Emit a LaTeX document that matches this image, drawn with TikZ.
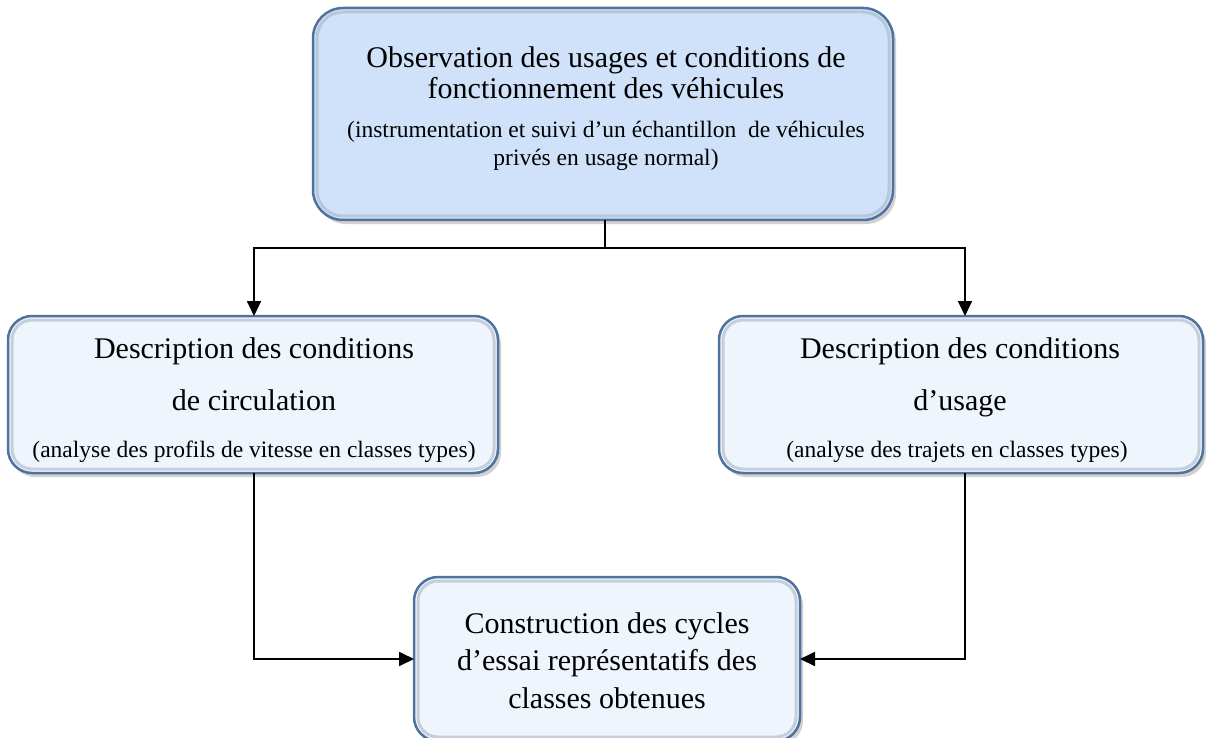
\documentclass[tikz,border=0pt]{standalone}
\usepackage{fontspec}
\setmainfont{Liberation Serif}
\usetikzlibrary{arrows.meta}
\definecolor{bordc}{RGB}{79,114,158}
\definecolor{topfill}{RGB}{207,226,250}
\definecolor{subfill}{RGB}{239,245,253}
\definecolor{bevelc}{RGB}{165,175,190}
\begin{document}
\begin{tikzpicture}[x=1pt,y=-1pt,
  box/.style={draw=bordc, line width=2.5pt, rounded corners=#1, inner sep=0pt, outer sep=0pt},
  box/.default=24pt,
  bevel/.style={draw=bevelc, line width=3pt, opacity=0.55, rounded corners=#1},
  bevel/.default=20pt,
  shade/.style={fill=black, opacity=0.18, rounded corners=#1},
  shade/.default=24pt,
  big/.style={font=\fontsize{30}{36}\selectfont, anchor=base, inner sep=0pt},
  small/.style={font=\fontsize{23.5}{28}\selectfont, anchor=base, inner sep=0pt},
  conn/.style={draw=black, line width=1.8pt},
  arr/.style={conn, -{Triangle[length=15pt,width=14pt]}}
]
\useasboundingbox (0,0) rectangle (1207,738);
\fill[white] (0,0) rectangle (1207,738);

% shadows
\fill[shade=30pt] (316,12) rectangle (896,224);
\fill[shade] (11,320) rectangle (501,477);
\fill[shade] (722,320) rectangle (1206,477);
\fill[shade] (417,581) rectangle (803,745);

% boxes
\node[box=30pt, fill=topfill, minimum width=580pt, minimum height=212pt] (obs) at (603,114) {};
\node[box, fill=subfill, minimum width=490pt, minimum height=157pt] (circ) at (253,394.5) {};
\node[box, fill=subfill, minimum width=484pt, minimum height=157pt] (usage) at (961,394.5) {};
\node[box, fill=subfill, minimum width=386pt, minimum height=164pt] (cons) at (607,659) {};

% bevels
\draw[bevel=26pt] ([xshift=4pt,yshift=-4pt]obs.north west) rectangle ([xshift=-4pt,yshift=4pt]obs.south east);
\draw[bevel] ([xshift=4pt,yshift=-4pt]circ.north west) rectangle ([xshift=-4pt,yshift=4pt]circ.south east);
\draw[bevel] ([xshift=4pt,yshift=-4pt]usage.north west) rectangle ([xshift=-4pt,yshift=4pt]usage.south east);
\draw[bevel] ([xshift=4pt,yshift=-4pt]cons.north west) rectangle ([xshift=-4pt,yshift=4pt]cons.south east);

% texts
\node[big] (t1) at (606,68) {Observation des usages et conditions de};
\node[big] (t2) at (606,99) {fonctionnement des véhicules};
\node[small] (t3) at (606,138) {(instrumentation et suivi d’un échantillon\ \ de véhicules};
\node[small] (t4) at (606,166) {privés en usage normal)};

\node[big] (c1) at (254,358) {Description des conditions};
\node[big] (c2) at (254,410) {de circulation};
\node[small] (c3) at (254,457) {(analyse des profils de vitesse en classes types)};

\node[big] (u1) at (960,358) {Description des conditions};
\node[big] (u2) at (960,410) {d’usage};
\node[small] (u3) at (957,457) {(analyse des trajets en classes types)};

\node[big] (k1) at (607,633) {Construction des cycles};
\node[big] (k2) at (607,670) {d’essai représentatifs des};
\node[big] (k3) at (607,708) {classes obtenues};

% connectors
\coordinate (j) at (605,248);
\draw[conn] ([xshift=2pt]obs.south) -- (j);
\draw[arr] (j) -| ([xshift=1pt]circ.north);
\draw[arr] (j) -| ([xshift=4pt]usage.north);
\draw[arr] ([xshift=1pt]circ.south) |- (cons.west);
\draw[arr] ([xshift=4pt]usage.south) |- (cons.east);
\end{tikzpicture}
\end{document}
